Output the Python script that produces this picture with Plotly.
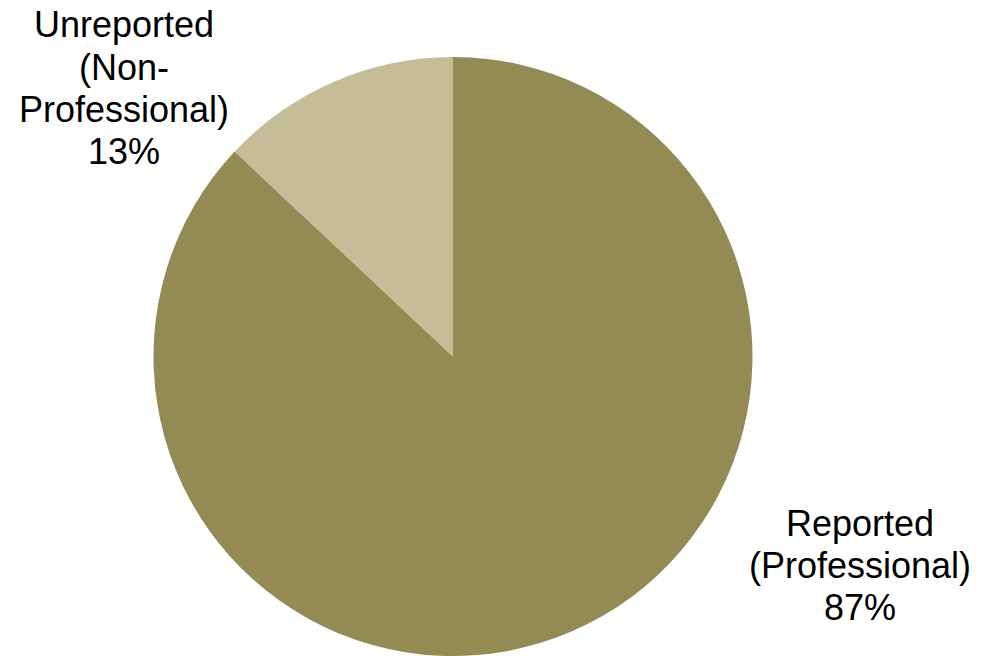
import plotly.graph_objects as go

# Share of records by reporting status
categories = ["Reported (Professional)", "Unreported (Non-Professional)"]
shares = [87, 13]
label_lines = [
    ["Reported", "(Professional)"],
    ["Unreported", "(Non-", "Professional)"],
]
slice_colors = ["#948A54", "#C4BD97"]

W, H = 981, 656
FONT = "Liberation Sans, Arial, sans-serif"
FONT_SIZE = 36
LINE_STEP = 42.3

fig = go.Figure(
    go.Pie(
        labels=categories,
        values=shares,
        sort=False,
        direction="clockwise",
        rotation=0,
        marker=dict(colors=slice_colors, line=dict(width=0)),
        textinfo="none",
        hoverinfo="label+percent",
        showlegend=False,
        domain=dict(x=[153 / W, 753 / W], y=[0, (H - 57) / H]),
    )
)

# Outside labels: one annotation per text line (x centre, first baseline in px)
label_anchor = [(860, 535), (123.5, 37)]
annotations = []
for lines, share, (cx, base0) in zip(label_lines, shares, label_anchor):
    for i, line in enumerate(lines + [f"{share}%"]):
        base = base0 + i * LINE_STEP
        annotations.append(
            dict(
                x=cx / W,
                y=1 - (base - 12) / H,
                xref="paper",
                yref="paper",
                xanchor="center",
                yanchor="middle",
                text=line,
                showarrow=False,
                font=dict(family=FONT, size=FONT_SIZE, color="#000000"),
            )
        )

fig.update_layout(
    width=W,
    height=H,
    margin=dict(l=0, r=0, t=0, b=0),
    paper_bgcolor="#FFFFFF",
    plot_bgcolor="#FFFFFF",
    annotations=annotations,
)

fig.write_html("out.html")
